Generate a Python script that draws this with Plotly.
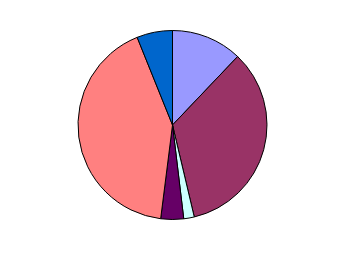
import plotly.graph_objects as go

labels = ["A", "B", "C", "D", "E", "F"]
values = [12.1, 34.2, 1.8, 3.9, 41.9, 6.1]
colors = ["#9999FF", "#993366", "#CCFFFF", "#660066", "#FF8080", "#0066CC"]

W, H = 346, 253
cx, cy, r = 172.5, 125, 94.5

fig = go.Figure(go.Pie(
    labels=labels,
    values=values,
    sort=False,
    direction="clockwise",
    rotation=0,
    textinfo="none",
    hoverinfo="skip",
    marker=dict(colors=colors, line=dict(color="black", width=1)),
    domain=dict(x=[(cx - r) / W, (cx + r) / W], y=[(H - cy - r) / H, (H - cy + r) / H]),
))
fig.update_layout(
    width=W, height=H,
    margin=dict(l=0, r=0, t=0, b=0),
    showlegend=False,
    paper_bgcolor="white",
    plot_bgcolor="white",
)
fig.write_html("out.html")
